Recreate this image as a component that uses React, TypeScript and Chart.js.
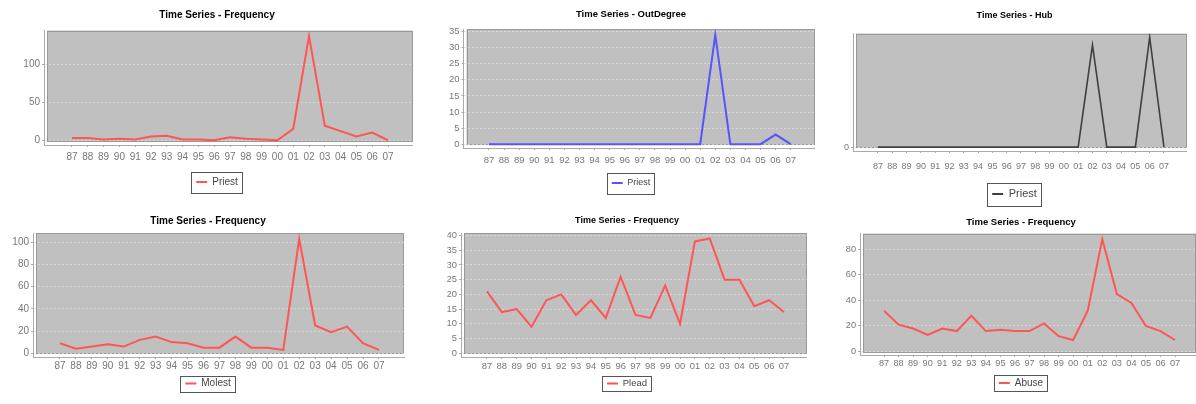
import { useEffect, useRef } from 'react';
import { Chart, registerables } from 'chart.js';

Chart.register(...registerables);

// ---------- data ----------
const years = ['87', '88', '89', '90', '91', '92', '93', '94', '95', '96', '97', '98', '99', '00', '01', '02', '03', '04', '05', '06', '07'];

const priestFrequency = [3, 3, 1, 2, 1, 5, 6, 1, 1, 0, 4, 2, 1, 0, 15, 137, 19, 12, 5, 10, 0];
const priestOutDegree = [0, 0, 0, 0, 0, 0, 0, 0, 0, 0, 0, 0, 0, 0, 0, 34, 0, 0, 0, 3, 0];
const priestHub = [0, 0, 0, 0, 0, 0, 0, 0, 0, 0, 0, 0, 0, 0, 0, 0.93, 0, 0, 0, 1, 0];
const molestFrequency = [9, 4, 6, 8, 6, 12, 15, 10, 9, 5, 5, 15, 5, 5, 3, 103, 25, 19, 24, 9, 3];
const pleadFrequency = [21, 14, 15, 9, 18, 20, 13, 18, 12, 26, 13, 12, 23, 10, 38, 39, 25, 25, 16, 18, 14];
const abuseFrequency = [32, 21, 18, 13, 18, 16, 28, 16, 17, 16, 16, 22, 12, 9, 32, 88, 45, 38, 20, 16, 9];

const ticksPriestFrequency = [0, 50, 100];
const ticksPriestOutDegree = [0, 5, 10, 15, 20, 25, 30, 35];
const ticksPriestHub = [0];
const ticksMolest = [0, 20, 40, 60, 80, 100];
const ticksPlead = [0, 5, 10, 15, 20, 25, 30, 35, 40];
const ticksAbuse = [0, 20, 40, 60, 80];

// ---------- layout / style config ----------
const FONT = '"Liberation Sans", Arial, Helvetica, sans-serif';

type Panel = {
  title: string;
  series: string;
  values: number[];
  yTicks: number[];
  color: string;
  lineWidth: number;
  canvas: { left: number; top: number; width: number; height: number };
  axisX: number; bgL: number; bgR: number; bgT: number; bgB: number; axisY: number;
  cx: number; titleY: number; labelY: number; legendY: number;
  titleSize: number; tickSize: number; legendSize: number; legendBoxH: number; legendPad: number;
  yMin: number; yMax: number; xMin: number; xMax: number;
};

const panels: Panel[] = [
  {
    title: 'Time Series - Frequency', series: 'Priest', values: priestFrequency, yTicks: ticksPriestFrequency,
    color: '#ff5555', lineWidth: 2,
    canvas: { left: 0, top: 0, width: 425, height: 205 },
    axisX: 44, bgL: 47, bgR: 412.5, bgT: 30.5, bgB: 147, axisY: 151,
    cx: 217, titleY: 15, labelY: 163, legendY: 188,
    titleSize: 10, tickSize: 10, legendSize: 10, legendBoxH: 21, legendPad: 4,
    yMin: -6.25, yMax: 144.4, xMin: -1.772, xMax: 21.55,
  },
  {
    title: 'Time Series - OutDegree', series: 'Priest', values: priestOutDegree, yTicks: ticksPriestOutDegree,
    color: '#5555ff', lineWidth: 2,
    canvas: { left: 435, top: 0, width: 390, height: 205 },
    axisX: 463.5, bgL: 466.5, bgR: 814, bgT: 29, bgB: 150.7, axisY: 154,
    cx: 631, titleY: 14, labelY: 166, legendY: 189,
    titleSize: 9.5, tickSize: 9.5, legendSize: 9, legendBoxH: 21, legendPad: 4,
    yMin: -1.18, yMax: 35.8, xMin: -1.69, xMax: 21.545,
  },
  {
    title: 'Time Series - Hub', series: 'Priest', values: priestHub, yTicks: ticksPriestHub,
    color: '#404040', lineWidth: 1.6,
    canvas: { left: 830, top: 0, width: 366, height: 216 },
    axisX: 853, bgL: 856, bgR: 1186.7, bgT: 33.5, bgB: 153.5, axisY: 157,
    cx: 1014.5, titleY: 16, labelY: 173, legendY: 200,
    titleSize: 9, tickSize: 9, legendSize: 11, legendBoxH: 23, legendPad: 4,
    yMin: -0.035, yMax: 1.035, xMin: -1.748, xMax: 21.59,
  },
  {
    title: 'Time Series - Frequency', series: 'Molest', values: molestFrequency, yTicks: ticksMolest,
    color: '#ff5555', lineWidth: 2,
    canvas: { left: 0, top: 205, width: 425, height: 199 },
    axisX: 33, bgL: 36, bgR: 404, bgT: 233, bgB: 361, axisY: 364,
    cx: 208, titleY: 221, labelY: 373, legendY: 390.5,
    titleSize: 10, tickSize: 10, legendSize: 10, legendBoxH: 16, legendPad: 3,
    yMin: -3.41, yMax: 108.3, xMin: -1.69, xMax: 21.57,
  },
  {
    title: 'Time Series - Frequency', series: 'Plead', values: pleadFrequency, yTicks: ticksPlead,
    color: '#ff5555', lineWidth: 2,
    canvas: { left: 435, top: 205, width: 390, height: 199 },
    axisX: 461, bgL: 464, bgR: 806.7, bgT: 233, bgB: 361, axisY: 364,
    cx: 627, titleY: 221, labelY: 373, legendY: 390.5,
    titleSize: 9, tickSize: 9.4, legendSize: 9.5, legendBoxH: 15, legendPad: 3,
    yMin: -1.29, yMax: 40.87, xMin: -1.75, xMax: 21.53,
  },
  {
    title: 'Time Series - Frequency', series: 'Abuse', values: abuseFrequency, yTicks: ticksAbuse,
    color: '#ff5555', lineWidth: 2,
    canvas: { left: 830, top: 205, width: 366, height: 199 },
    axisX: 860, bgL: 863, bgR: 1196, bgT: 233.5, bgB: 359, axisY: 362,
    cx: 1021, titleY: 222, labelY: 370, legendY: 390,
    titleSize: 9.5, tickSize: 9.2, legendSize: 10, legendBoxH: 16, legendPad: 3,
    yMin: -2.74, yMax: 92.4, xMin: -1.65, xMax: 21.44,
  },
];

// ---------- plugins ----------
const plotFrame = {
  id: 'plotFrame',
  beforeDraw(chart: any, _args: any, opts: any) {
    const a = chart.chartArea;
    const ctx = chart.ctx as CanvasRenderingContext2D;
    const x = a.left + opts.gapL;
    const y = a.top;
    const w = a.right - x;
    const h = a.bottom - opts.gapB - a.top;
    ctx.save();
    ctx.fillStyle = '#c0c0c0';
    ctx.fillRect(x, y, w, h);
    ctx.strokeStyle = '#999999';
    ctx.lineWidth = 1;
    ctx.strokeRect(Math.round(x) + 0.5, Math.round(y) + 0.5, Math.round(w) - 1, Math.round(h) - 1);
    ctx.restore();
  },
};

const legendFrame = {
  id: 'legendFrame',
  afterDraw(chart: any, _args: any, opts: any) {
    const lg = chart.legend;
    if (!lg || !lg.legendHitBoxes || !lg.legendHitBoxes.length) return;
    const hb = lg.legendHitBoxes[0];
    const ctx = chart.ctx as CanvasRenderingContext2D;
    const cy = hb.top + hb.height / 2;
    const left = Math.round(hb.left - 5);
    const right = Math.round(hb.left + hb.width + 4);
    const top = Math.round(cy - opts.boxH / 2);
    const bottom = Math.round(cy + opts.boxH / 2);
    ctx.save();
    ctx.strokeStyle = '#555555';
    ctx.lineWidth = 1;
    ctx.strokeRect(left + 0.5, top + 0.5, right - left, bottom - top);
    ctx.restore();
  },
};

function PanelChart({ p }: { p: Panel }) {
  const ref = useRef<HTMLCanvasElement>(null);

  useEffect(() => {
    const canvas = ref.current;
    if (!canvas) return;
    const c = p.canvas;
    const yw = p.axisX + p.bgR - 2 * p.cx;
    const padL = p.axisX - yw - c.left;
    const padR = c.left + c.width - p.bgR;
    const tf = p.titleSize;
    const fs = p.tickSize;
    const lf = p.legendSize;
    const lp = p.legendPad;
    const titlePadTop = p.titleY - c.top - 0.6 * tf;
    const titlePadBottom = p.bgT - p.titleY - 0.6 * tf;
    const xTickLen = 2;
    const xTickPad = p.labelY - p.axisY - xTickLen - 0.6 * fs;
    const legendTop = p.legendY - lf / 2 - lp;
    const xh = legendTop - p.axisY;
    const padB = c.top + c.height - (legendTop + lf + 2 * lp);

    const chart = new Chart(canvas, {
      type: 'line',
      data: {
        datasets: [
          {
            label: p.series,
            data: p.values.map((v, i) => ({ x: i, y: v })),
            borderColor: p.color,
            backgroundColor: p.color,
            borderWidth: p.lineWidth,
            pointRadius: 0,
            pointHoverRadius: 0,
            tension: 0,
            fill: false,
          },
        ],
      },
      options: {
        responsive: false,
        maintainAspectRatio: false,
        animation: false,
        events: [],
        layout: { padding: { left: padL, right: padR, top: 0, bottom: padB } },
        plugins: {
          title: {
            display: true,
            text: p.title,
            color: '#000000',
            font: { family: FONT, size: tf, weight: 'bold', lineHeight: 1.2 },
            padding: { top: titlePadTop, bottom: titlePadBottom },
          },
          legend: {
            display: true,
            position: 'bottom',
            labels: {
              boxWidth: 11,
              boxHeight: 2,
              padding: lp,
              color: '#444444',
              font: { family: FONT, size: lf },
              generateLabels: (ch: any) =>
                ch.data.datasets.map((ds: any, i: number) => ({
                  text: ds.label,
                  fillStyle: ds.borderColor,
                  strokeStyle: ds.borderColor,
                  lineWidth: 0,
                  hidden: false,
                  datasetIndex: i,
                  fontColor: '#444444',
                })),
            },
          },
          tooltip: { enabled: false },
          plotFrame: { gapL: p.bgL - p.axisX, gapB: p.axisY - p.bgB },
          legendFrame: { boxH: p.legendBoxH },
        } as any,
        scales: {
          x: {
            type: 'linear',
            bounds: 'data',
            min: p.xMin,
            max: p.xMax,
            afterBuildTicks: (sc: any) => {
              sc.ticks = years.map((_, i) => ({ value: i }));
            },
            afterFit: (sc: any) => {
              sc.height = xh;
            },
            ticks: {
              autoSkip: false,
              maxRotation: 0,
              minRotation: 0,
              padding: xTickPad,
              color: '#777777',
              font: { family: FONT, size: fs },
              callback: (v: any) => years[Math.round(Number(v))] ?? '',
            },
            grid: {
              drawOnChartArea: false,
              drawTicks: true,
              tickLength: xTickLen,
              tickColor: '#aaaaaa',
              color: '#aaaaaa',
            },
            border: { display: true, color: '#aaaaaa', width: 1 },
          },
          y: {
            type: 'linear',
            bounds: 'data',
            min: p.yMin,
            max: p.yMax,
            afterBuildTicks: (sc: any) => {
              sc.ticks = p.yTicks.map((v) => ({ value: v }));
            },
            afterFit: (sc: any) => {
              sc.width = yw;
            },
            ticks: {
              padding: 2,
              color: '#777777',
              font: { family: FONT, size: fs },
              callback: (v: any) => String(v),
            },
            grid: {
              color: 'rgba(222,222,222,0.75)',
              lineWidth: 1,
              drawTicks: true,
              tickLength: 2,
              tickColor: '#aaaaaa',
            },
            border: { display: true, color: '#aaaaaa', width: 1, dash: [2, 2] },
          },
        } as any,
      },
      plugins: [plotFrame, legendFrame] as any,
    });

    return () => {
      chart.destroy();
    };
  }, [p]);

  return (
    <canvas
      ref={ref}
      width={p.canvas.width}
      height={p.canvas.height}
      style={{
        position: 'absolute',
        left: p.canvas.left,
        top: p.canvas.top,
        width: p.canvas.width,
        height: p.canvas.height,
      }}
    />
  );
}

export default function App() {
  return (
    <div
      style={{
        position: 'absolute',
        left: 0,
        top: 0,
        width: 1196,
        height: 404,
        background: '#ffffff',
        overflow: 'hidden',
      }}
    >
      {panels.map((p, i) => (
        <PanelChart key={i} p={p} />
      ))}
    </div>
  );
}
